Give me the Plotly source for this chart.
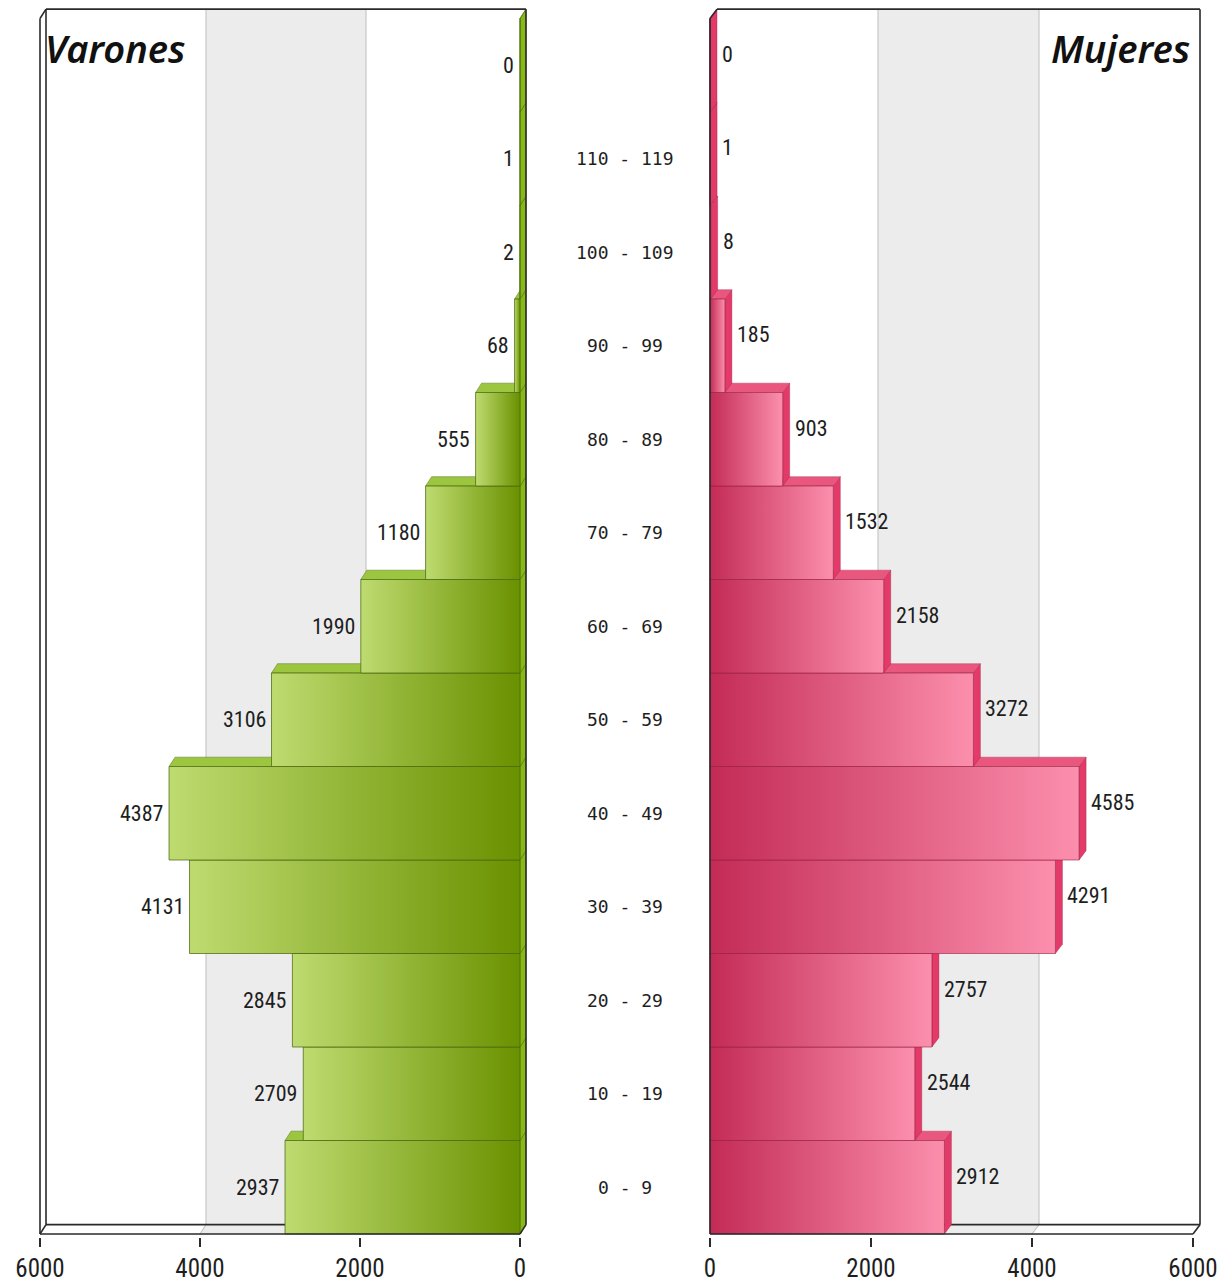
import plotly.graph_objects as go

# ---------------- data ----------------
age_groups = ["0 - 9", "10 - 19", "20 - 29", "30 - 39", "40 - 49", "50 - 59",
              "60 - 69", "70 - 79", "80 - 89", "90 - 99", "100 - 109", "110 - 119", ""]
varones = [2937, 2709, 2845, 4131, 4387, 3106, 1990, 1180, 555, 68, 2, 1, 0]
mujeres = [2912, 2544, 2757, 4291, 4585, 3272, 2158, 1532, 903, 185, 8, 1, 0]
x_ticks = [0, 2000, 4000, 6000]
title_left = "Varones"
title_right = "Mujeres"

# ---------------- geometry / style ----------------
# page body has an 8px margin: figure is 8px smaller and coordinates below
# are given in window pixels, converted to paper fractions.
OFF = 8
FW, FH = 1232 - OFF, 1284 - OFF


def px_x(p):
    return (p - OFF) / FW


def px_y(p):
    return min(1.0, max(0.0, (1284 - p) / FH))


ROW_PX = 93.5
Y_BOTTOM_PX = 1234.0
Y_MIN = -0.53
Y_MAX = (Y_BOTTOM_PX - OFF) / ROW_PX - 0.5

DY = 0.1           # depth offset in rows
DXL = -75          # depth offset (data units) on left (reversed) axis
DXR = 87           # depth offset on right axis
HALF = 0.5

G_DARK, G_LIGHT = "#6a9100", "#bedb70"
G_TOP, G_SIDE, G_EDGE = "#9cc540", "#86b915", "rgba(75,105,15,0.75)"
P_DARK, P_LIGHT = "#c32b56", "#fc8fad"
P_TOP, P_SIDE, P_EDGE = "#e9577e", "#e43a6a", "rgba(150,30,65,0.6)"

fig = go.Figure()


def poly(xs, ys, xa, ya, fill, line, width=1, grad=None):
    kw = dict(x=xs, y=ys, xaxis=xa, yaxis=ya, mode="lines", fill="toself",
              line=dict(color=line, width=width), hoverinfo="skip", showlegend=False)
    if grad is not None:
        kw["fillgradient"] = grad
    else:
        kw["fillcolor"] = fill
    fig.add_trace(go.Scatter(**kw))


for i in range(len(age_groups)):
    y0, y1 = i - HALF, i + HALF
    # ---- Varones (left, reversed axis) ----
    v = varones[i]
    poly([0, 0, DXL, DXL, 0], [y0, y1, y1 + DY, y0 + DY, y0], "x", "y", G_SIDE, G_EDGE, 0.6)
    poly([v, 0, DXL, v + DXL, v], [y1, y1, y1 + DY, y1 + DY, y1], "x", "y", G_TOP, G_EDGE, 0.6)
    poly([0, v, v, 0, 0], [y0, y0, y1, y1, y0], "x", "y", None, G_EDGE, 1,
         grad=dict(type="horizontal", start=0, stop=max(v, 1),
                   colorscale=[[0, G_DARK], [1, G_LIGHT]]))
    # ---- Mujeres (right) ----
    m = mujeres[i]
    poly([m, m, m + DXR, m + DXR, m], [y0, y1, y1 + DY, y0 + DY, y0], "x2", "y2", P_SIDE, P_EDGE, 0.6)
    poly([0, m, m + DXR, DXR, 0], [y1, y1, y1 + DY, y1 + DY, y1], "x2", "y2", P_TOP, P_EDGE, 0.6)
    poly([0, m, m, 0, 0], [y0, y0, y1, y1, y0], "x2", "y2", None, P_EDGE, 1,
         grad=dict(type="horizontal", start=0, stop=max(m, 1),
                   colorscale=[[0, P_DARK], [1, P_LIGHT]]))

n = len(age_groups)
ytop = n - HALF
ybot = -HALF

# ---------------- frame, back wall and band shapes ----------------
shapes = []
BAND = "#ececec"
GRID = "#c8c8c8"
FRAME = "#2a2a2a"


def seg(x0, y0, x1, y1, xr, yr, color=FRAME, w=1.6, layer="above"):
    shapes.append(dict(type="line", x0=x0, y0=y0, x1=x1, y1=y1, xref=xr, yref=yr,
                       line=dict(color=color, width=w), layer=layer))


def band(xa, xb, dx, xr, yr):
    shapes.append(dict(type="rect", x0=xa + dx, x1=xb + dx, y0=ybot + DY, y1=ytop + DY,
                       xref=xr, yref=yr, fillcolor=BAND, line=dict(width=0), layer="below"))
    path = (f"M {xa},{ybot} L {xb},{ybot} L {xb + dx},{ybot + DY} L {xa + dx},{ybot + DY} Z")
    shapes.append(dict(type="path", path=path, xref=xr, yref=yr, fillcolor=BAND,
                       line=dict(width=0), layer="below"))
    for xv in (xa, xb):
        seg(xv + dx, ybot + DY, xv + dx, ytop + DY, xr, yr, GRID, 1.2, "below")
        seg(xv, ybot, xv + dx, ybot + DY, xr, yr, GRID, 1.2, "below")


band(2000, 4000, DXL, "x", "y")
band(2000, 4000, DXR, "x2", "y2")

xmax = x_ticks[-1]
# left frame
seg(xmax + DXL, ytop + DY, DXL, ytop + DY, "x", "y")
seg(DXL, ytop + DY, DXL, ybot + DY, "x", "y")
seg(xmax + DXL, ytop + DY, xmax + DXL, ybot + DY, "x", "y")
seg(xmax + DXL, ybot + DY, DXL, ybot + DY, "x", "y", FRAME, 1.6, "below")
seg(xmax, ybot, xmax, ytop, "x", "y")
seg(xmax, ybot, 0, ybot, "x", "y")
seg(xmax, ytop, xmax + DXL, ytop + DY, "x", "y")
seg(xmax, ybot, xmax + DXL, ybot + DY, "x", "y")
seg(0, ybot, DXL, ybot + DY, "x", "y")

# right frame
seg(DXR, ytop + DY, xmax + DXR, ytop + DY, "x2", "y2")
seg(xmax + DXR, ytop + DY, xmax + DXR, ybot + DY, "x2", "y2")
seg(DXR, ybot + DY, xmax + DXR, ybot + DY, "x2", "y2", FRAME, 1.6, "below")
seg(0, ybot, 0, ytop, "x2", "y2")
seg(0, ybot, xmax, ybot, "x2", "y2")
seg(0, ytop, DXR, ytop + DY, "x2", "y2")
seg(xmax, ybot, xmax + DXR, ybot + DY, "x2", "y2")

# ---------------- annotations ----------------
ann = []
NUM_FONT = "Liberation Sans Narrow, Arial Narrow, Roboto Condensed, Liberation Sans, sans-serif"
for i in range(n):
    ann.append(dict(x=varones[i], y=i, xref="x", yref="y", text=str(varones[i]),
                    showarrow=False, xanchor="right", yanchor="middle", xshift=-4,
                    font=dict(family=NUM_FONT, size=22, color="#1e1e1e")))
    ann.append(dict(x=mujeres[i], y=i, xref="x2", yref="y2", text=str(mujeres[i]),
                    showarrow=False, xanchor="left", yanchor="middle", xshift=10, yshift=11,
                    font=dict(family=NUM_FONT, size=22, color="#1e1e1e")))
    if age_groups[i]:
        ann.append(dict(x=px_x(625), y=i, xref="paper", yref="y2", text=age_groups[i],
                        showarrow=False, xanchor="center", yanchor="middle",
                        font=dict(family="DejaVu Sans Mono, Liberation Mono, monospace",
                                  size=18, color="#1e1e1e")))

TITLE_FONT = dict(family="Noto Sans, Open Sans, sans-serif", size=38, color="#111",
                  style="italic", weight=600)
ann.append(dict(x=px_x(43), y=px_y(48), xref="paper", yref="paper", text=title_left,
                showarrow=False, xanchor="left", yanchor="middle", font=TITLE_FONT))
ann.append(dict(x=px_x(1192), y=px_y(48), xref="paper", yref="paper", text=title_right,
                showarrow=False, xanchor="right", yanchor="middle", font=TITLE_FONT))

# ---------------- axes ----------------
y_dom = [px_y(Y_BOTTOM_PX - (Y_MIN + 0.5) * ROW_PX), 1.0]
axis_common = dict(showgrid=False, zeroline=False, showline=False, ticks="outside",
                   ticklen=9, tickwidth=1.5, tickcolor="#2a2a2a", automargin=False,
                   tickvals=x_ticks, ticktext=[str(t) for t in x_ticks],
                   tickfont=dict(family=NUM_FONT, size=25, color="#1e1e1e"))
yaxis_common = dict(showgrid=False, zeroline=False, showline=False, showticklabels=False,
                    ticks="", range=[Y_MIN, Y_MAX], domain=y_dom, automargin=False)

fig.update_layout(
    width=FW, height=FH,
    margin=dict(l=0, r=0, t=0, b=0, autoexpand=False),
    paper_bgcolor="white", plot_bgcolor="rgba(0,0,0,0)",
    showlegend=False,
    xaxis=dict(domain=[px_x(36), px_x(528.8)], range=[6050, -110], anchor="y", **axis_common),
    yaxis=dict(anchor="x", **yaxis_common),
    xaxis2=dict(domain=[px_x(705.975), px_x(1209.1)], range=[-50, 6200], anchor="y2", **axis_common),
    yaxis2=dict(anchor="x2", **yaxis_common),
    shapes=shapes,
    annotations=ann,
)

fig.write_html("out.html")
